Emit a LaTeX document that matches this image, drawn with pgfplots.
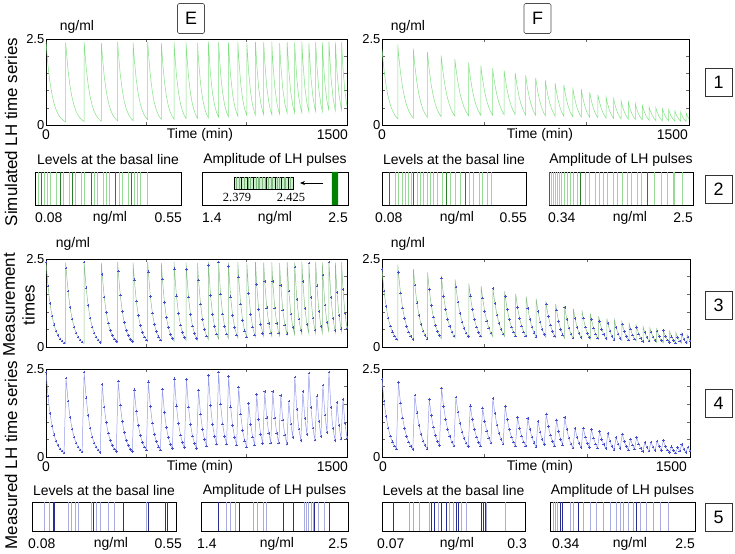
\documentclass[border=0pt]{standalone}
\usepackage{pgfplots}
\pgfplotsset{compat=1.18}
\usepackage{pgfplotstable}
\usetikzlibrary{arrows.meta}
\usepackage{fontspec}
\setmainfont{Liberation Sans}
\newfontfamily\seriffont{Liberation Serif}
\newcommand\fs[1]{\fontsize{#1}{#1}\selectfont}
\definecolor{simgreen}{RGB}{130,225,130}
\definecolor{msgreen}{RGB}{140,190,140}
\definecolor{mblue}{RGB}{70,80,205}
\definecolor{lblue}{RGB}{150,155,232}
\definecolor{bcgl}{RGB}{150,218,150}
\definecolor{bcgd}{RGB}{40,125,40}
\definecolor{bcbl}{RGB}{168,172,222}
\definecolor{bcbd}{RGB}{40,45,145}

\pgfplotstableread{
x y
0 2.42
10 1.730
20 1.236
30 0.884
40 0.631
50 0.451
60 0.323
70 0.231
80 0.165
90 0.118
98 0.09
98 2.40
100 2.240
110 1.586
120 1.122
130 0.795
140 0.563
150 0.398
160 0.282
170 0.200
180 0.141
190 0.10
190 2.41
200 1.683
210 1.175
220 0.821
230 0.573
240 0.400
250 0.280
260 0.195
270 0.136
276 0.11
276 2.39
280 2.062
290 1.425
300 0.985
310 0.681
320 0.471
330 0.325
340 0.225
350 0.155
357 0.12
357 2.42
360 2.159
370 1.477
380 1.011
390 0.691
400 0.473
410 0.324
420 0.221
430 0.151
434 0.13
434 2.40
440 1.911
450 1.307
460 0.894
470 0.612
480 0.418
490 0.286
500 0.196
507 0.15
507 2.41
510 2.138
520 1.435
530 0.963
540 0.646
550 0.434
560 0.291
570 0.195
575 0.16
575 2.38
580 1.930
590 1.270
600 0.835
610 0.549
620 0.361
630 0.238
638 0.17
638 2.42
640 2.223
650 1.455
660 0.952
670 0.623
680 0.408
690 0.267
698 0.19
698 2.40
700 2.200
710 1.422
720 0.920
730 0.595
740 0.385
750 0.249
755 0.20
755 2.39
760 1.908
770 1.216
780 0.775
790 0.494
800 0.315
809 0.21
809 2.42
810 2.311
820 1.457
830 0.918
840 0.579
850 0.365
860 0.23
860 2.41
870 1.505
880 0.940
890 0.587
900 0.367
909 0.24
909 2.40
910 2.289
920 1.427
930 0.889
940 0.554
950 0.345
956 0.26
956 2.42
960 1.991
970 1.223
980 0.751
990 0.461
1000 0.283
1001 0.27
1001 2.39
1010 1.526
1020 0.927
1030 0.563
1040 0.342
1044 0.28
1044 2.41
1050 1.777
1060 1.069
1070 0.643
1080 0.387
1085 0.30
1085 2.40
1090 1.858
1100 1.114
1110 0.668
1120 0.400
1125 0.31
1125 2.42
1130 1.867
1140 1.111
1150 0.662
1160 0.394
1164 0.32
1164 2.38
1170 1.750
1180 1.049
1190 0.629
1200 0.377
1202 0.34
1202 2.41
1210 1.588
1220 0.943
1230 0.560
1239 0.35
1239 2.40
1240 2.277
1250 1.344
1260 0.793
1270 0.469
1275 0.36
1275 2.43
1280 1.864
1290 1.097
1300 0.646
1310 0.38
1310 2.39
1320 1.402
1330 0.823
1340 0.483
1344 0.39
1344 2.41
1350 1.739
1360 1.009
1370 0.586
1377 0.40
1377 2.40
1380 2.044
1390 1.196
1400 0.700
1410 0.41
1410 2.42
1420 1.400
1430 0.810
1440 0.469
1442 0.42
1442 2.40
1450 1.549
1460 0.896
1470 0.518
1473 0.44
1473 2.41
1480 1.640
1490 0.946
1500 0.546
}\Egreen

\pgfplotstableread{
x y
0 2.42
10 1.730
20 1.236
30 0.884
40 0.631
50 0.451
60 0.323
70 0.231
80 0.165
90 0.118
100 2.240
110 1.586
120 1.122
130 0.795
140 0.563
150 0.398
160 0.282
170 0.200
180 0.141
190 2.41
200 1.683
210 1.175
220 0.821
230 0.573
240 0.400
250 0.280
260 0.195
270 0.136
280 2.062
290 1.425
300 0.985
310 0.681
320 0.471
330 0.325
340 0.225
350 0.155
360 2.159
370 1.477
380 1.011
390 0.691
400 0.473
410 0.324
420 0.221
430 0.151
440 1.911
450 1.307
460 0.894
470 0.612
480 0.418
490 0.286
500 0.196
510 2.138
520 1.435
530 0.963
540 0.646
550 0.434
560 0.291
570 0.195
580 1.930
590 1.270
600 0.835
610 0.549
620 0.361
630 0.238
640 2.223
650 1.455
660 0.952
670 0.623
680 0.408
690 0.267
700 2.200
710 1.422
720 0.920
730 0.595
740 0.385
750 0.249
760 1.908
770 1.216
780 0.775
790 0.494
800 0.315
810 2.311
820 1.457
830 0.918
840 0.579
850 0.365
860 2.41
870 1.505
880 0.940
890 0.587
900 0.367
910 2.289
920 1.427
930 0.889
940 0.554
950 0.345
960 1.991
970 1.223
980 0.751
990 0.461
1000 0.283
1010 1.526
1020 0.927
1030 0.563
1040 0.342
1050 1.777
1060 1.069
1070 0.643
1080 0.387
1090 1.858
1100 1.114
1110 0.668
1120 0.400
1130 1.867
1140 1.111
1150 0.662
1160 0.394
1170 1.750
1180 1.049
1190 0.629
1200 0.377
1210 1.588
1220 0.943
1230 0.560
1240 2.277
1250 1.344
1260 0.793
1270 0.469
1280 1.864
1290 1.097
1300 0.646
1310 2.39
1320 1.402
1330 0.823
1340 0.483
1350 1.739
1360 1.009
1370 0.586
1380 2.044
1390 1.196
1400 0.700
1410 2.42
1420 1.400
1430 0.810
1440 0.469
1450 1.549
1460 0.896
1470 0.518
1480 1.640
1490 0.946
1500 0.546
}\Emeas

\pgfplotstableread{
x y
0 2.20
10 1.589
20 1.148
30 0.829
40 0.599
50 0.433
60 0.313
70 0.226
77 0.18
77 2.34
80 2.124
90 1.536
100 1.112
110 0.804
120 0.582
130 0.421
140 0.304
150 0.220
153 0.20
153 2.22
160 1.756
170 1.256
180 0.898
190 0.642
200 0.460
210 0.329
220 0.235
222 0.22
222 2.12
230 1.635
240 1.181
250 0.853
260 0.616
270 0.445
280 0.322
289 0.24
289 2.02
290 1.959
300 1.443
310 1.063
320 0.782
330 0.576
340 0.424
350 0.312
356 0.26
356 1.92
360 1.708
370 1.274
380 0.951
390 0.709
400 0.530
410 0.395
420 0.295
423 0.27
423 1.81
430 1.456
440 1.067
450 0.782
460 0.573
470 0.420
480 0.307
483 0.28
483 1.73
490 1.389
500 1.016
510 0.743
520 0.543
530 0.397
540 0.29
540 1.66
550 1.230
560 0.911
570 0.675
580 0.500
590 0.370
597 0.30
597 1.58
600 1.441
610 1.059
620 0.779
630 0.573
640 0.421
650 0.310
651 0.30
651 1.51
660 1.129
670 0.817
680 0.591
690 0.428
700 0.309
702 0.29
702 1.44
710 1.102
720 0.789
730 0.565
740 0.404
750 0.290
751 0.28
751 1.37
760 1.004
770 0.710
780 0.503
790 0.356
798 0.27
798 1.30
800 1.216
810 0.869
820 0.622
830 0.445
840 0.318
846 0.26
846 1.22
850 1.053
860 0.728
870 0.504
880 0.348
889 0.25
889 1.16
890 1.118
900 0.775
910 0.537
920 0.372
930 0.258
932 0.24
932 1.09
940 0.810
950 0.560
960 0.386
970 0.267
974 0.23
974 1.04
980 0.829
990 0.567
1000 0.388
1010 0.266
1015 0.22
1015 0.95
1020 0.787
1030 0.539
1040 0.370
1050 0.254
1055 0.21
1055 0.88
1060 0.731
1070 0.505
1080 0.349
1090 0.241
1095 0.20
1095 0.81
1100 0.666
1110 0.450
1120 0.304
1130 0.206
1132 0.19
1132 0.76
1140 0.552
1150 0.370
1160 0.248
1168 0.18
1168 0.71
1170 0.656
1180 0.441
1190 0.296
1200 0.199
1204 0.17
1204 0.66
1210 0.514
1220 0.339
1230 0.223
1238 0.16
1238 0.61
1240 0.562
1250 0.372
1260 0.246
1270 0.163
1272 0.15
1272 0.57
1280 0.406
1290 0.265
1300 0.173
1305 0.14
1305 0.53
1310 0.428
1320 0.280
1330 0.183
1338 0.13
1338 0.50
1340 0.457
1350 0.293
1360 0.187
1370 0.12
1370 0.47
1380 0.303
1390 0.195
1400 0.125
1401 0.12
1401 0.44
1410 0.290
1420 0.183
1430 0.115
1431 0.11
1431 0.41
1440 0.269
1450 0.168
1459 0.11
1459 0.38
1460 0.362
1470 0.221
1480 0.135
1486 0.10
1486 0.35
1490 0.287
1500 0.174
}\Fgreen

\pgfplotstableread{
x y
0 2.20
10 1.589
20 1.148
30 0.829
40 0.599
50 0.433
60 0.313
70 0.226
80 2.124
90 1.536
100 1.112
110 0.804
120 0.582
130 0.421
140 0.304
150 0.220
160 1.756
170 1.256
180 0.898
190 0.642
200 0.460
210 0.329
220 0.235
230 1.635
240 1.181
250 0.853
260 0.616
270 0.445
280 0.322
290 1.959
300 1.443
310 1.063
320 0.782
330 0.576
340 0.424
350 0.312
360 1.708
370 1.274
380 0.951
390 0.709
400 0.530
410 0.395
420 0.295
430 1.456
440 1.067
450 0.782
460 0.573
470 0.420
480 0.307
490 1.389
500 1.016
510 0.743
520 0.543
530 0.397
540 1.66
550 1.230
560 0.911
570 0.675
580 0.500
590 0.370
600 1.441
610 1.059
620 0.779
630 0.573
640 0.421
650 0.310
660 1.129
670 0.817
680 0.591
690 0.428
700 0.309
710 1.102
720 0.789
730 0.565
740 0.404
750 0.290
760 1.004
770 0.710
780 0.503
790 0.356
800 1.216
810 0.869
820 0.622
830 0.445
840 0.318
850 1.053
860 0.728
870 0.504
880 0.348
890 1.118
900 0.775
910 0.537
920 0.372
930 0.258
940 0.810
950 0.560
960 0.386
970 0.267
980 0.829
990 0.567
1000 0.388
1010 0.266
1020 0.787
1030 0.539
1040 0.370
1050 0.254
1060 0.731
1070 0.505
1080 0.349
1090 0.241
1100 0.666
1110 0.450
1120 0.304
1130 0.206
1140 0.552
1150 0.370
1160 0.248
1170 0.656
1180 0.441
1190 0.296
1200 0.199
1210 0.514
1220 0.339
1230 0.223
1240 0.562
1250 0.372
1260 0.246
1270 0.163
1280 0.406
1290 0.265
1300 0.173
1310 0.428
1320 0.280
1330 0.183
1340 0.457
1350 0.293
1360 0.187
1370 0.47
1380 0.303
1390 0.195
1400 0.125
1410 0.290
1420 0.183
1430 0.115
1440 0.269
1450 0.168
1460 0.362
1470 0.221
1480 0.135
1490 0.287
1500 0.174
}\Fmeas

\pgfplotsset{
  ts/.style={scale only axis, anchor=south west, xmin=0, xmax=1500, ymin=0, ymax=2.5,
    xtick={0,500,1000,1500}, xticklabels={}, ytick={0,0.5,1,1.5,2,2.5}, yticklabels={0,,,,,2.5},
    tick align=inside, major tick length=3bp, tick style={black!60, line width=0.4pt},
    axis line style={black, line width=0.7pt},
    yticklabel style={font=\fs{13}, inner sep=1.5bp},
    /pgf/number format/assume math mode=true, clip=true},
  bc/.style={scale only axis, anchor=south west, ymin=0, ymax=1, xtick=\empty, ytick=\empty,
    axis line style={black, line width=0.7pt}, clip=true},
  lg/.style={ycomb, bcgl, line width=0.6pt, mark=none},
  dg/.style={ycomb, bcgd, line width=0.7pt, mark=none},
  lb/.style={ycomb, bcbl, line width=0.7pt, mark=none},
  db/.style={ycomb, bcbd, line width=0.9pt, mark=none},
  mk/.style={mark=+, mark size=1.3bp, mark options={mblue, line width=0.45pt, solid}},
}

\begin{document}
\begin{tikzpicture}
\path[use as bounding box] (0bp,0bp) rectangle (735bp,554bp);

% ---------------- Row 1 ----------------
\begin{axis}[ts, at={(46bp,429bp)}, width=301bp, height=86bp]
\addplot[simgreen, line width=0.5pt] table[x=x,y=y] {\Egreen};
\end{axis}
\begin{axis}[ts, at={(382bp,429bp)}, width=307bp, height=86bp]
\addplot[simgreen, line width=0.5pt] table[x=x,y=y] {\Fgreen};
\end{axis}

% ---------------- Row 3 ----------------
\begin{axis}[ts, at={(46bp,207bp)}, width=301bp, height=88bp]
\addplot[msgreen, line width=0.5pt] table[x=x,y=y] {\Egreen};
\addplot[only marks, mk] table[x=x,y=y] {\Emeas};
\end{axis}
\begin{axis}[ts, at={(382bp,207bp)}, width=308bp, height=88bp]
\addplot[msgreen, line width=0.5pt] table[x=x,y=y] {\Fgreen};
\addplot[only marks, mk] table[x=x,y=y] {\Fmeas};
\end{axis}

% ---------------- Row 4 ----------------
\begin{axis}[ts, at={(46bp,97bp)}, width=301bp, height=88bp]
\addplot[lblue, line width=0.5pt, mk] table[x=x,y=y] {\Emeas};
\end{axis}
\begin{axis}[ts, at={(382bp,97bp)}, width=308bp, height=88bp]
\addplot[lblue, line width=0.5pt, mk] table[x=x,y=y] {\Fmeas};
\end{axis}

% ---------------- Row 2 barcodes ----------------
\begin{axis}[bc, at={(35bp,349bp)}, width=146bp, height=33bp, xmin=0.08, xmax=0.55]
\addplot[lg] coordinates {(0.09,1)(0.11,1)(0.12,1)(0.13,1)(0.15,1)(0.17,1)(0.19,1)(0.21,1)(0.23,1)(0.24,1)(0.27,1)(0.28,1)(0.30,1)(0.31,1)(0.32,1)(0.35,1)(0.36,1)(0.38,1)(0.40,1)(0.41,1)(0.42,1)(0.44,1)};
\addplot[dg] coordinates {(0.10,1)(0.16,1)(0.20,1)(0.26,1)(0.34,1)(0.39,1)};
\end{axis}
\begin{axis}[bc, at={(202bp,349bp)}, width=146bp, height=33bp, xmin=1.4, xmax=2.5]
\addplot[fill={rgb,255:red,0;green,130;blue,0}, draw=none] coordinates {(2.379,0)(2.379,1)(2.425,1)(2.425,0)} \closedcycle;
\end{axis}
\begin{axis}[bc, at={(234bp,365bp)}, width=59bp, height=12bp, xmin=2.379, xmax=2.425,
  axis line style={black, line width=0.6pt}, axis background/.style={fill={rgb,255:red,205;green,238;blue,205}}]
\addplot[ycomb, bcgl!85!black, line width=0.5pt] coordinates {(2.381,1)(2.383,1)(2.387,1)(2.390,1)(2.392,1)(2.396,1)(2.398,1)(2.399,1)(2.401,1)(2.403,1)(2.406,1)(2.408,1)(2.409,1)(2.413,1)(2.414,1)(2.418,1)(2.419,1)(2.423,1)};
\addplot[ycomb, black!80!bcgd, line width=0.6pt] coordinates {(2.385,1)(2.389,1)(2.394,1)(2.404,1)(2.411,1)(2.416,1)(2.421,1)};
\end{axis}

\begin{axis}[bc, at={(382bp,349bp)}, width=144bp, height=33bp, xmin=0.08, xmax=0.55]
\addplot[lg] coordinates {(0.124,1)(0.134,1)(0.145,1)(0.156,1)(0.165,1)(0.175,1)(0.194,1)(0.205,1)(0.215,1)(0.227,1)(0.238,1)(0.249,1)(0.26,1)(0.276,1)(0.303,1)(0.319,1)(0.336,1)(0.366,1)(0.379,1)(0.396,1)(0.406,1)(0.423,1)(0.436,1)};
\addplot[dg] coordinates {(0.105,1)(0.183,1)(0.29,1)(0.352,1)};
\end{axis}
\begin{axis}[bc, at={(549bp,349bp)}, width=144bp, height=33bp, xmin=0.34, xmax=2.5]
\addplot[lg] coordinates {(0.38,1)(0.41,1)(0.44,1)(0.47,1)(0.50,1)(0.53,1)(0.57,1)(0.61,1)(0.66,1)(0.71,1)(0.76,1)(0.88,1)(0.95,1)(1.04,1)(1.09,1)(1.16,1)(1.22,1)(1.30,1)(1.37,1)(1.44,1)(1.51,1)(1.58,1)(1.66,1)(1.73,1)(1.92,1)(2.02,1)(2.12,1)(2.20,1)(2.22,1)(2.34,1)};
\addplot[dg] coordinates {(0.35,1)(0.81,1)(1.81,1)};
\end{axis}

% ---------------- Row 5 barcodes ----------------
\begin{axis}[bc, at={(32bp,23bp)}, width=144bp, height=29bp, xmin=0.08, xmax=0.55]
\addplot[lb] coordinates {(0.121,1)(0.136,1)(0.198,1)(0.209,1)(0.22,1)(0.232,1)(0.274,1)(0.29,1)(0.304,1)(0.329,1)(0.35,1)(0.454,1)};
\addplot[db] coordinates {(0.149,1)(0.153,1)(0.281,1)(0.379,1)(0.461,1)(0.517,1)(0.521,1)};
\end{axis}
\begin{axis}[bc, at={(201bp,23bp)}, width=147bp, height=29bp, xmin=1.4, xmax=2.5]
\addplot[lb] coordinates {(1.592,1)(1.617,1)(1.654,1)(1.791,1)(1.818,1)(1.865,1)(1.89,1)(2.176,1)(2.189,1)(2.201,1)(2.226,1)(2.239,1)(2.276,1)(2.326,1)};
\addplot[db] coordinates {(1.529,1)(1.686,1)(2.015,1)(2.089,1)(2.251,1)(2.363,1)};
\end{axis}
\begin{axis}[bc, at={(382bp,23bp)}, width=143bp, height=29bp, xmin=0.07, xmax=0.3]
\addplot[lb] coordinates {(0.114,1)(0.12,1)(0.13,1)(0.146,1)(0.161,1)(0.179,1)(0.184,1)(0.198,1)(0.206,1)(0.238,1)(0.268,1)};
\addplot[db] coordinates {(0.0887,1)(0.15,1)(0.154,1)(0.165,1)(0.173,1)(0.189,1)(0.193,1)(0.23,1)(0.233,1)(0.236,1)};
\end{axis}
\begin{axis}[bc, at={(550bp,23bp)}, width=145bp, height=29bp, xmin=0.34, xmax=2.5]
\addplot[lb] coordinates {(0.39,1)(0.419,1)(0.449,1)(0.638,1)(0.688,1)(0.837,1)(0.936,1)(1.035,1)(1.134,1)(1.234,1)(1.333,1)(1.383,1)(1.432,1)(1.507,1)(1.581,1)(1.681,1)(1.78,1)(1.879,1)(1.979,1)(2.103,1)};
\addplot[db] coordinates {(0.489,1)(0.529,1)(0.762,1)(1.621,1)};
\end{axis}

% ---------------- Texts ----------------
\begin{scope}[x=1bp, y=1bp, every node/.style={font=\fs{14}, inner sep=0pt}]
\draw[-{Stealth[length=5bp,width=4bp]}, line width=0.6pt] (323,371) -- (300,371);
\node[font=\seriffont\fs{12.5}] at (237,357) {2.379};
\node[font=\seriffont\fs{12.5}] at (291,357) {2.425};
\node at (77,527) {ng/ml};
\node at (408,527) {ng/ml};
\node at (73,310) {ng/ml};
\node at (408,310) {ng/ml};
% row 1 x labels
\node at (46,419) {0};
\node[anchor=east] at (348,419) {1500};
\node at (200,419) {Time (min)};
\node at (382,419) {0};
\node[anchor=east] at (688,419) {1500};
\node at (540,419) {Time (min)};
% row 4 x labels
\node at (46,87) {0};
\node[anchor=east] at (348,87) {1500};
\node at (200,87) {Time (min)};
\node at (383,87) {0};
\node[anchor=east] at (687,87) {1500};
\node at (540,87) {Time (min)};
% barcode titles
\node at (108,394) {Levels at the basal line};
\node at (275,394) {Amplitude of LH pulses};
\node at (454,394) {Levels at the basal line};
\node at (621,394) {Amplitude of LH pulses};
\node at (104,63) {Levels at the basal line};
\node at (274.5,63) {Amplitude of LH pulses};
\node at (453.5,63) {Levels at the basal line};
\node at (622.5,63) {Amplitude of LH pulses};
% barcode labels row 2
\node[anchor=west] at (35,336) {0.08};
\node at (110,336) {ng/ml};
\node[anchor=east] at (182,336) {0.55};
\node[anchor=west] at (202,336) {1.4};
\node at (275,336) {ng/ml};
\node[anchor=east] at (348,336) {2.5};
\node[anchor=west] at (375,336) {0.08};
\node at (457,336) {ng/ml};
\node[anchor=east] at (527,336) {0.55};
\node[anchor=west] at (548,336) {0.34};
\node at (630,336) {ng/ml};
\node[anchor=east] at (693,336) {2.5};
% barcode labels row 5
\node[anchor=west] at (28,10) {0.08};
\node at (111,10) {ng/ml};
\node[anchor=east] at (182,10) {0.55};
\node[anchor=west] at (197,10) {1.4};
\node at (277,10) {ng/ml};
\node[anchor=east] at (348,10) {2.5};
\node[anchor=west] at (377,10) {0.07};
\node at (457,10) {ng/ml};
\node[anchor=east] at (527,10) {0.3};
\node[anchor=west] at (552,10) {0.34};
\node at (630,10) {ng/ml};
\node[anchor=east] at (695,10) {2.5};
% boxes
\node[draw=black!70, line width=0.7pt, rounded corners=1.5bp, minimum width=27bp, minimum height=30bp, font=\fs{18}] at (191,535.5) {E};
\node[draw=black!70, line width=0.7pt, rounded corners=1.5bp, minimum width=27bp, minimum height=30bp, font=\fs{18}] at (537.5,535.5) {F};
\foreach \n/\yy in {1/472,2/364.5,3/248.5,4/150.5,5/37}{
  \node[draw=black!80, line width=0.7pt, minimum width=27bp, minimum height=28bp, font=\fs{18}] at (718.5,\yy) {\n};
}
% left labels
\node[rotate=90, font=\fs{17}] at (11,422) {Simulated LH time series};
\node[rotate=90, font=\fontsize{17}{20}\selectfont, align=center] at (19,249) {Measurement\\times};
\node[rotate=90, font=\fs{17}] at (11,99) {Measured LH time series};
\end{scope}
\end{tikzpicture}
\end{document}
